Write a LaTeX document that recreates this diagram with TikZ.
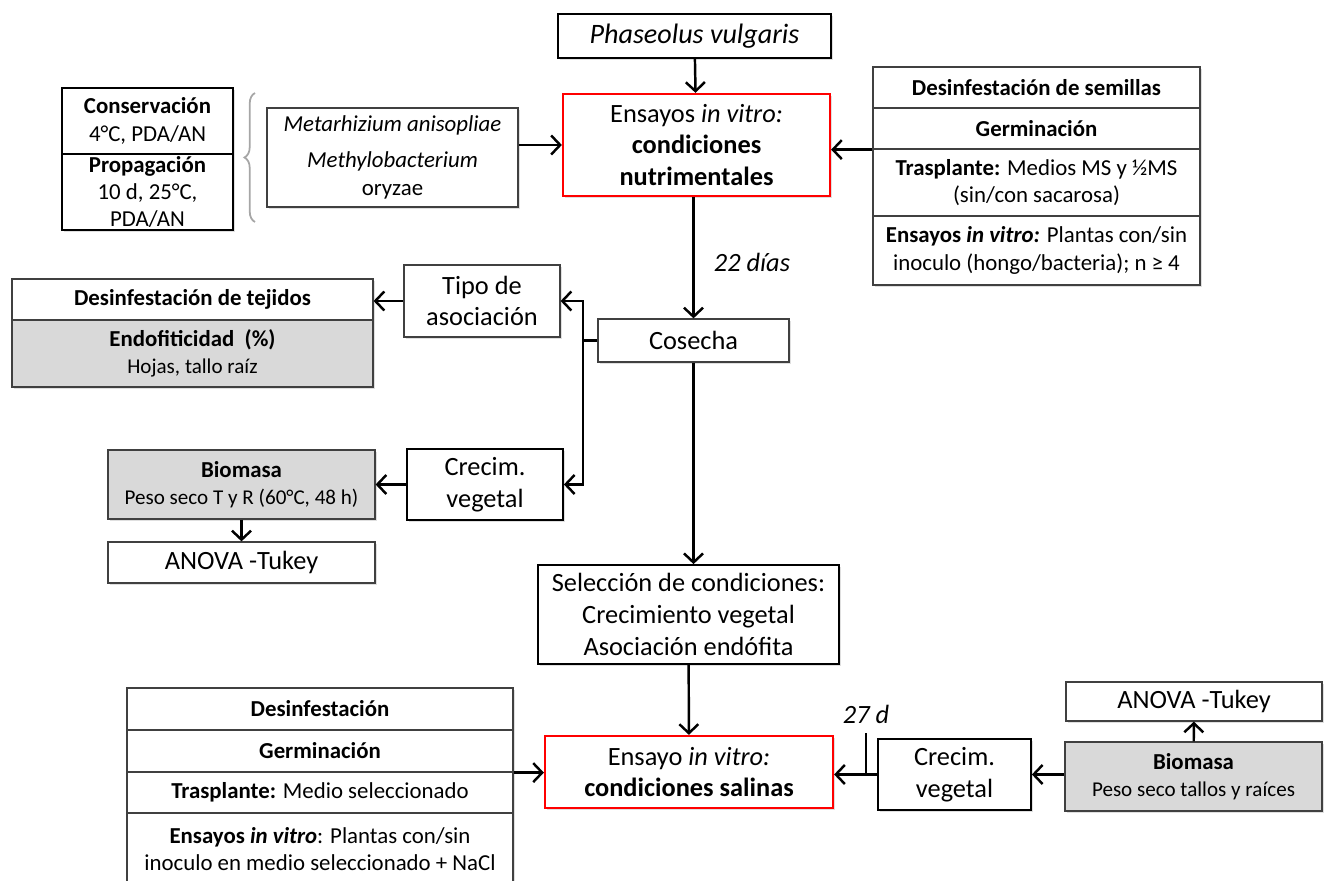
\documentclass[tikz,border=0pt]{standalone}
\usepackage{fontspec}
\setmainfont{Carlito}
\usepackage{tikz}
\usetikzlibrary{arrows.meta,positioning,calc,shadows,decorations.pathreplacing}

\newcommand{\bigfont}{\fontsize{15}{18}\selectfont}
\newcommand{\midfont}{\fontsize{13}{15.5}\selectfont}
\newcommand{\smallfont}{\fontsize{12}{14.5}\selectfont}

\begin{document}
\begin{tikzpicture}[
  x=0.02cm, y=-0.02cm,
  soft/.style={drop shadow={shadow xshift=1.2pt, shadow yshift=-1.2pt, opacity=0.25}},
  box/.style={draw, line width=1pt, fill=white, align=center, inner sep=1pt,
              font=\bigfont, soft},
  thinbox/.style={box, draw=black!75, line width=0.7pt},
  redbox/.style={box, draw=red, line width=1.3pt},
  cell/.style={draw=black!75, line width=0.7pt, fill=white, align=center,
               inner sep=1pt, font=\midfont, soft},
  greyfill/.style={fill=black!15},
  arr/.style={-{Straight Barb[length=1.8mm,width=3.8mm]}, line width=1.4pt},
  lbl/.style={font=\bigfont\itshape}]
  \clip (0,0) rectangle (1325,881);

  % top: material vegetal y ensayo nutrimental
  \node[box, font=\fontsize{16}{19}\selectfont\itshape, minimum width=5.46cm,
        minimum height=0.88cm] (phas) at (694.5,36) {Phaseolus vulgaris};
  \node[redbox, minimum width=5.34cm, minimum height=2.04cm] (nutri) at (696.5,145)
    {Ensayos \textit{in vitro:}\\\textbf{condiciones}\\\textbf{nutrimentales}};

  % microorganismos
  \node[box, font=\midfont, line width=1.3pt, minimum width=3.42cm,
        minimum height=1.32cm] (cons) at (147.5,121) {\textbf{Conservación}\\4°C, PDA/AN};
  \node[box, font=\midfont, line width=1.3pt, minimum width=3.42cm,
        minimum height=1.52cm] (prop) at (147.5,192) {\textbf{Propagación}\\10 d, 25°C,\\PDA/AN};
  \draw[decorate, decoration={brace, amplitude=6pt}, draw=black!35, line width=1pt]
    (255,222) -- (255,93);
  \node[thinbox, font=\midfont, minimum width=5.02cm, minimum height=1.98cm] (meta)
    at (392.5,157.5)
    {\textit{Metarhizium anisopliae}\\[5pt]\textit{Methylobacterium}\\oryzae};

  % preparacion de plantas
  \node[cell, minimum width=6.54cm, minimum height=0.82cm] (desem) at (1036.5,87.5)
    {\textbf{Desinfestación de semillas}};
  \node[cell, minimum width=6.54cm, minimum height=0.82cm] (germ) at (1036.5,128.5)
    {\textbf{Germinación}};
  \node[cell, minimum width=6.54cm, minimum height=1.34cm] (trasp) at (1036.5,182.5)
    {\textbf{Trasplante:} Medios MS y ½MS\\(sin/con sacarosa)};
  \node[cell, minimum width=6.54cm, minimum height=1.38cm] (ens) at (1036.5,250.5)
    {\textbf{Ensayos \textit{in vitro:}} Plantas con/sin\\inoculo (hongo/bacteria); n ≥ 4};

  \draw[arr] (phas) -- (nutri);
  \draw[arr] (meta.east |- nutri) -- (nutri.west);
  \draw[arr] (germ.south west) -- (nutri.east |- germ.south west);

  % cosecha y evaluaciones
  \node[lbl] (d22) at (752,262) {22 días};
  \node[thinbox, minimum width=3.82cm, minimum height=0.86cm] (cos) at (693.5,340.5)
    {Cosecha};
  \draw[arr] (cos.north |- nutri.south) -- (cos.north);

  \node[thinbox, minimum width=3.12cm, minimum height=1.44cm] (tipo) at (482,301)
    {Tipo de\\asociación};
  \node[cell, minimum width=7.22cm, minimum height=0.82cm] (destej) at (192.5,299.5)
    {\textbf{Desinfestación de tejidos}};
  \node[cell, greyfill, minimum width=7.22cm, minimum height=1.34cm] (endo)
    at (192.5,353.5) {\textbf{Endofiticidad~~(\%)}\\{\smallfont Hojas, tallo raíz}};

  \node[box, minimum width=3.12cm, minimum height=1.42cm] (crecA) at (485,484.5)
    {Crecim.\\vegetal};
  \node[cell, greyfill, minimum width=5.34cm, minimum height=1.38cm] (bioA)
    at (241.5,484.5) {\textbf{Biomasa}\\{\smallfont Peso seco T y R (60°C, 48 h)}};
  \node[thinbox, minimum width=5.34cm, minimum height=0.82cm] (anoA) at (241.5,562.5)
    {ANOVA -Tukey};

  \coordinate (br) at (583,340.5);
  \draw[line width=1.4pt] (cos.west) -- (br);
  \draw[arr] (br) |- (tipo.east);
  \draw[arr] (br) |- (crecA.east);
  \draw[arr] (tipo.west) -- (destej.east |- tipo.west);
  \draw[arr] (crecA) -- (bioA);
  \draw[arr] (bioA) -- (anoA);

  % seleccion y ensayo salino
  \node[box, minimum width=6.02cm, minimum height=1.98cm] (sel) at (688.5,614.5)
    {Selección de condiciones:\\Crecimiento vegetal\\Asociación endófita};
  \node[redbox, minimum width=5.76cm, minimum height=1.44cm] (sal) at (689,772)
    {Ensayo \textit{in vitro:}\\\textbf{condiciones salinas}};
  \draw[arr] (cos.south) -- (cos.south |- sel.north);
  \draw[arr] (sel) -- (sal);

  \node[cell, minimum width=7.72cm, minimum height=0.84cm] (desB) at (320,709)
    {\textbf{Desinfestación}};
  \node[cell, minimum width=7.72cm, minimum height=0.84cm] (germB) at (320,751)
    {\textbf{Germinación}};
  \node[cell, minimum width=7.72cm, minimum height=0.82cm] (traspB) at (320,792.5)
    {\textbf{Trasplante:} Medio seleccionado};
  \node[cell, minimum width=7.72cm, minimum height=1.44cm] (ensB) at (320,849)
    {\textbf{Ensayos \textit{in vitro}}: Plantas con/sin\\inoculo en medio seleccionado + NaCl};
  \draw[arr] (germB.south east) -- (sal.west |- germB.south east);

  \node[box, minimum width=3.06cm, minimum height=1.42cm] (crecB) at (954.5,774.5)
    {Crecim.\\vegetal};
  \node[cell, greyfill, minimum width=5.14cm, minimum height=1.38cm] (bioB)
    at (1193.5,776.5) {\textbf{Biomasa}\\{\smallfont Peso seco tallos y raíces}};
  \node[thinbox, minimum width=5.12cm, minimum height=0.78cm] (anoB) at (1194,701.5)
    {ANOVA -Tukey};
  \node[lbl] (d27) at (866,714) {27 d};
  \coordinate (tick) at (866,733);

  \draw[arr] (crecB.west) -- (sal.east |- crecB.west);
  \draw[line width=1.4pt] (tick) -- (tick |- crecB.west);
  \draw[arr] (bioB.west |- crecB) -- (crecB.east);
  \draw[arr] (bioB) -- (anoB);
\end{tikzpicture}
\end{document}
